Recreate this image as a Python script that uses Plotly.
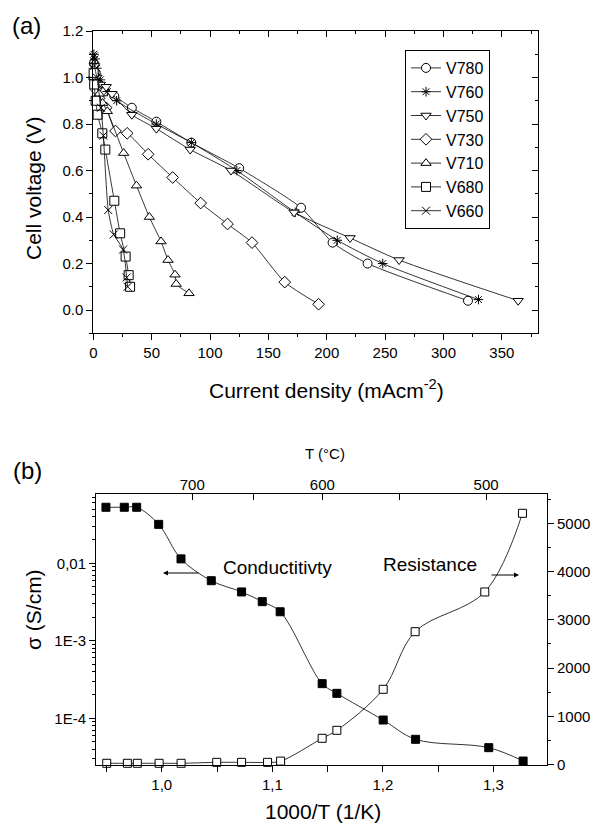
import plotly.graph_objects as go

W, H = 591, 823
FONT = "Arial, Liberation Sans, sans-serif"

# ---------------- panel (a) data ----------------
series_names = ["V780", "V760", "V750", "V730", "V710", "V680", "V660"]
j_V780 = [0.5, 2, 5, 10, 18, 33, 54, 84, 125, 178, 205, 235, 321]
v_V780 = [1.06, 1.02, 0.97, 0.94, 0.92, 0.87, 0.81, 0.72, 0.61, 0.44, 0.29, 0.20, 0.04]
j_V760 = [0.5, 1.5, 3, 6, 12, 20, 54, 84, 123, 173, 209, 248, 330]
v_V760 = [1.10, 1.08, 1.04, 0.99, 0.94, 0.90, 0.80, 0.72, 0.60, 0.42, 0.30, 0.20, 0.045]
j_V750 = [1, 3, 6, 11, 16, 33, 54, 83, 118, 172, 220, 262, 364]
v_V750 = [1.05, 1.00, 0.97, 0.96, 0.93, 0.84, 0.78, 0.69, 0.60, 0.42, 0.31, 0.215, 0.04]
j_V730 = [0.5, 2, 5, 11, 19, 29, 47, 68, 92, 115, 136, 164, 193]
v_V730 = [1.0, 0.95, 0.91, 0.87, 0.77, 0.76, 0.67, 0.57, 0.46, 0.37, 0.29, 0.12, 0.025]
j_V710 = [0.5, 2, 5, 8, 12, 26, 37, 48, 58, 64, 70, 71, 82]
v_V710 = [1.0, 0.97, 0.93, 0.89, 0.855, 0.675, 0.535, 0.40, 0.295, 0.215, 0.152, 0.112, 0.072]
j_V680 = [0.3, 0.8, 2, 3.7, 7.7, 10.3, 18, 23, 27.7, 30.3, 31.5]
v_V680 = [1.02, 0.97, 0.90, 0.84, 0.76, 0.69, 0.47, 0.33, 0.23, 0.15, 0.10]
j_V660 = [0.3, 1, 3, 6.6, 8.6, 12.8, 17.5, 25.5, 28.6, 29.4]
v_V660 = [1.09, 1.05, 1.0, 0.87, 0.75, 0.43, 0.325, 0.26, 0.14, 0.10]

# ---------------- panel (b) data ----------------
x_cond = [0.9495, 0.9661, 0.9773, 0.9972, 1.0174, 1.0448, 1.0722, 1.0909, 1.1071,
          1.1451, 1.1584, 1.2003, 1.2296, 1.2958, 1.3269]
sigma = [0.0528, 0.0528, 0.0528, 0.0318, 0.0114, 0.00596, 0.00427, 0.00320, 0.00237,
         2.80e-4, 2.10e-4, 9.5e-5, 5.36e-5, 4.18e-5, 2.81e-5]
x_res = [0.9502, 0.9689, 0.9779, 0.9976, 1.0175, 1.0497, 1.0722, 1.0957, 1.1075,
         1.1451, 1.1584, 1.2003, 1.2292, 1.2922, 1.3263]
resistance = [25, 25, 25, 25, 25, 45, 45, 45, 70, 543, 709, 1559, 2753, 3576, 5207]

x_b_ticks = [1.0, 1.1, 1.2, 1.3]
x_b_labels = ["1,0", "1,1", "1,2", "1,3"]
y_b_ticks = [1e-4, 1e-3, 1e-2]
y_b_labels = ["1E-4", "1E-3", "0,01"]
top_T = [700, 650, 600, 550, 500]
top_T_labels = ["700", "", "600", "", "500"]


def px_x(p):
    return p / W


def px_y(p):
    return 1 - p / H


fig = go.Figure()

series = [
    ("V780", j_V780, v_V780, "circle"),
    ("V760", j_V760, v_V760, "asterisk-open"),
    ("V750", j_V750, v_V750, "triangle-down"),
    ("V730", j_V730, v_V730, "diamond"),
    ("V710", j_V710, v_V710, "triangle-up"),
    ("V680", j_V680, v_V680, "square"),
    ("V660", j_V660, v_V660, "x-thin-open"),
]
for name, xs, ys, sym in series:
    open_line = sym.endswith("-open")
    fig.add_trace(go.Scatter(
        x=xs, y=ys, name=name, mode="lines+markers", legendgroup=name,
        line=dict(color="black", width=0.8, shape="spline", smoothing=0.6),
        marker=dict(symbol=sym, size=9 if not open_line else 8,
                    color="white" if not open_line else "black",
                    line=dict(color="black", width=1)),
        cliponaxis=False, xaxis="x", yaxis="y",
    ))

fig.add_trace(go.Scatter(
    x=x_cond, y=sigma, mode="lines+markers", showlegend=False,
    line=dict(color="black", width=0.8, shape="spline", smoothing=1),
    marker=dict(symbol="square", size=8, color="black", line=dict(color="black", width=1)),
    cliponaxis=False, xaxis="x3", yaxis="y3",
))
fig.add_trace(go.Scatter(
    x=x_res, y=resistance, mode="lines+markers", showlegend=False,
    line=dict(color="black", width=0.8, shape="spline", smoothing=1),
    marker=dict(symbol="square", size=8, color="white", line=dict(color="black", width=1)),
    cliponaxis=False, xaxis="x3", yaxis="y4",
))

# empty traces so that the overlaid tick-only axes get drawn
for xa, ya in (("x2", "y"), ("x", "y2"), ("x4", "y3")):
    fig.add_trace(go.Scatter(x=[], y=[], xaxis=xa, yaxis=ya, showlegend=False,
                             hoverinfo="skip", mode="markers"))

axfont = dict(family=FONT, size=15, color="black")
common = dict(showgrid=False, zeroline=False, linecolor="black", linewidth=1,
              tickcolor="black", tickfont=axfont, ticklen=6, tickwidth=1,
              automargin=False)

xa_dom = [93.3 / W, 538 / W]
ya_dom = [px_y(333.3), px_y(31)]
xb_dom = [96 / W, 547 / W]
yb_dom = [px_y(764.5), px_y(494)]

xa_range = [0, 381]
ya_range = [-0.1, 1.2]
xb_range = [0.9405, 1.3485]
yb_range = [-4.596, -1.106]
yr_range = [0, 5607]

minor_log = [k * 10 ** e for e in (-5, -4, -3, -2) for k in range(2, 10)]

fig.update_layout(
    width=W, height=H, margin=dict(l=0, r=0, t=0, b=0, autoexpand=False),
    paper_bgcolor="white", plot_bgcolor="white",
    font=dict(family=FONT, color="black"),
    showlegend=True,
    legend=dict(x=px_x(405), y=px_y(50), xanchor="left", yanchor="top",
                bordercolor="black", borderwidth=1, bgcolor="white",
                font=dict(family=FONT, size=16, color="black"),
                tracegroupgap=0),
    xaxis=dict(domain=xa_dom, anchor="y", range=xa_range, dtick=50, tick0=0,
               ticks="outside", mirror=True, showline=True,
               minor=dict(dtick=25, ticks="outside", ticklen=3, tickcolor="black"),
               **common),
    yaxis=dict(domain=ya_dom, anchor="x", range=ya_range, dtick=0.2, tick0=0,
               tickformat=".1f", ticks="outside", mirror=True, showline=True,
               minor=dict(dtick=0.1, ticks="outside", ticklen=3, tickcolor="black"),
               **common),
    xaxis2=dict(overlaying="x", anchor="y", side="top", range=xa_range, dtick=50, tick0=0,
                ticks="inside", showticklabels=False, showline=False,
                minor=dict(dtick=25, ticks="inside", ticklen=3, tickcolor="black"),
                **common),
    yaxis2=dict(overlaying="y", anchor="x", side="right", range=ya_range, dtick=0.2, tick0=0,
                ticks="inside", showticklabels=False, showline=False,
                minor=dict(dtick=0.1, ticks="inside", ticklen=3, tickcolor="black"),
                **common),
    xaxis3=dict(domain=xb_dom, anchor="y3", range=xb_range, tickmode="array",
                tickvals=x_b_ticks, ticktext=x_b_labels, ticks="outside",
                mirror=True, showline=True,
                minor=dict(dtick=0.05, tick0=0, ticks="outside", ticklen=6, tickcolor="black"),
                **common),
    yaxis3=dict(domain=yb_dom, anchor="x3", type="log", range=yb_range, tickmode="array",
                tickvals=y_b_ticks, ticktext=y_b_labels, ticks="outside", showline=True,
                minor=dict(tickmode="array", tickvals=minor_log, ticks="outside",
                           ticklen=3, tickcolor="black"),
                **common),
    yaxis4=dict(overlaying="y3", anchor="x3", side="right", range=yr_range, dtick=1000,
                tick0=0, ticks="outside", showline=True,
                minor=dict(dtick=500, ticks="outside", ticklen=3, tickcolor="black"),
                **common),
    xaxis4=dict(overlaying="x3", anchor="y3", side="top", range=xb_range, tickmode="array",
                tickvals=[1000 / (t + 273.15) for t in top_T], ticktext=top_T_labels,
                ticks="inside", showline=False, **common),
)

ann = []


def text(x, y, s, size, angle=0):
    ann.append(dict(x=px_x(x), y=px_y(y), xref="paper", yref="paper", text=s,
                    showarrow=False, textangle=angle, xanchor="center", yanchor="middle",
                    font=dict(family=FONT, size=size, color="black")))


text(26, 25, "(a)", 24)
text(27, 470, "(b)", 24)
text(33, 188, "Cell voltage (V)", 21, -90)
text(326, 389, "Current density (mAcm<sup>-2</sup>)", 21)
text(33, 610, "σ (S/cm)", 21, -90)
text(323, 811, "1000/T (1/K)", 21)
text(325, 453, "T (°C)", 15)
text(277, 567, "Conductitivty", 19)
text(430, 564, "Resistance", 19)

# arrows
ann.append(dict(x=px_x(163), y=px_y(573), xref="paper", yref="paper", ax=37, ay=0,
                text="", showarrow=True, arrowhead=2, arrowsize=1, arrowwidth=1,
                arrowcolor="black"))
ann.append(dict(x=px_x(519), y=px_y(575), xref="paper", yref="paper", ax=-29, ay=0,
                text="", showarrow=True, arrowhead=2, arrowsize=1, arrowwidth=1,
                arrowcolor="black"))
fig.update_layout(annotations=ann)

fig.write_html("out.html", config={"displayModeBar": False},
               post_script="document.body.style.margin='0';document.body.style.padding='0';")
